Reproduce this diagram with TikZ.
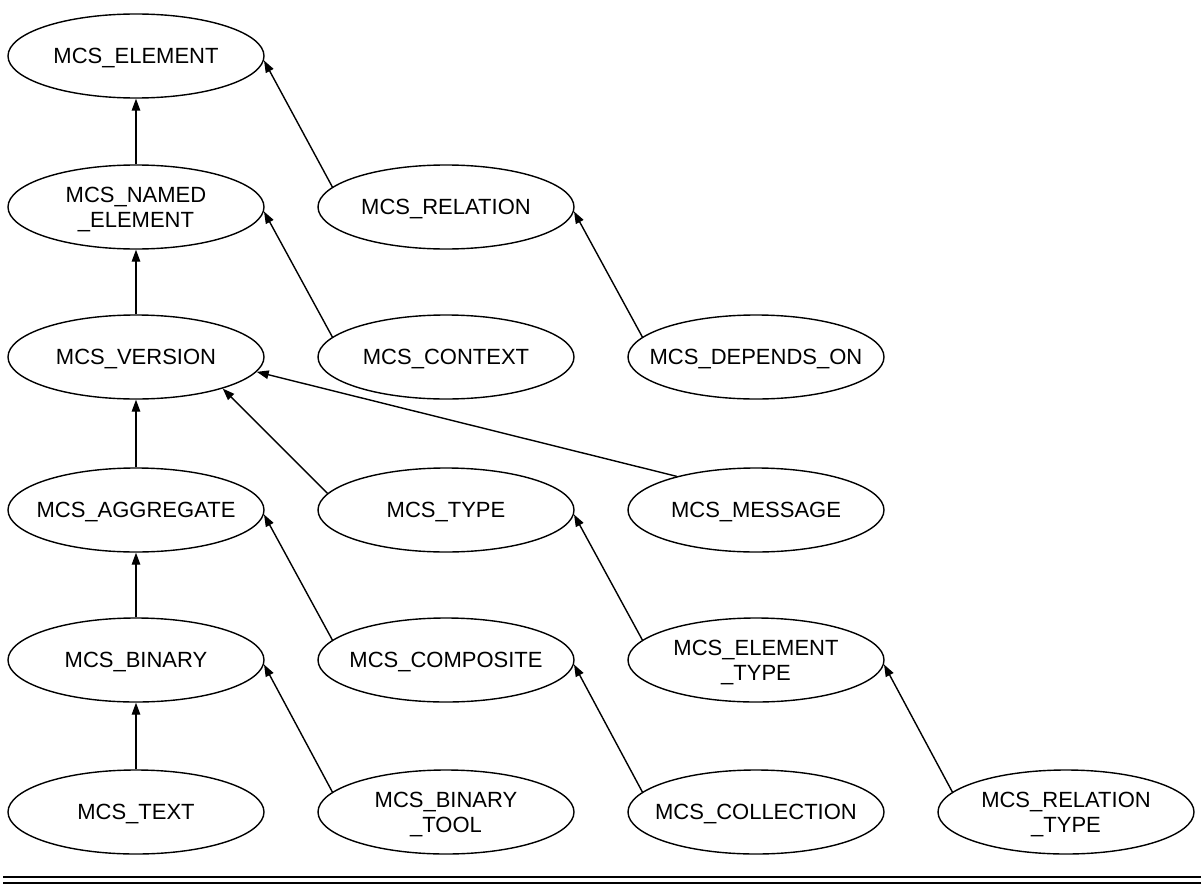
\documentclass[tikz,border=0pt]{standalone}
\usepackage{fontspec}
\setmainfont{Liberation Sans}
\usetikzlibrary{shapes.geometric,arrows.meta}

\tikzset{
  % class name, centred inside the ellipse without widening it
  lbl/.style={inner sep=0pt, align=center,
              font=\fontsize{22}{25}\selectfont, text depth=0pt},
  one/.style={text height=15.75pt},
  cls/.style={ellipse, draw=black, line width=1.4pt, minimum width=256pt,
              minimum height=84pt, inner sep=0pt,
              label={[lbl, one]center:#1}},
  cls2/.style={ellipse, draw=black, line width=1.4pt, minimum width=256pt,
              minimum height=84pt, inner sep=0pt,
              label={[lbl]center:#1}},
  isa/.style={line width=1.4pt, -{Triangle[length=12pt,width=8.5pt]}},
}

\begin{document}
\begin{tikzpicture}[x=1pt, y=-1pt]
  \useasboundingbox (0,0) rectangle (1201,888);

  % column one: the main inheritance chain
  \node[cls={MCS\_ELEMENT}]            (elem)  at (136,56)  {};
  \node[cls2={MCS\_NAMED\\\_ELEMENT}]  (named) at (136,207) {};
  \node[cls={MCS\_VERSION}]            (ver)   at (136,357) {};
  \node[cls={MCS\_AGGREGATE}]          (agg)   at (136,510) {};
  \node[cls={MCS\_BINARY}]             (bin)   at (136,660) {};
  \node[cls={MCS\_TEXT}]               (txt)   at (136,812) {};

  % column two
  \node[cls={MCS\_RELATION}]           (rel)   at (446,207) {};
  \node[cls={MCS\_CONTEXT}]            (ctx)   at (446,357) {};
  \node[cls={MCS\_TYPE}]               (typ)   at (446,510) {};
  \node[cls={MCS\_COMPOSITE}]          (comp)  at (446,660) {};
  \node[cls2={MCS\_BINARY\\\_TOOL}]    (tool)  at (446,812) {};

  % column three
  \node[cls={MCS\_DEPENDS\_ON}]        (dep)   at (756,357) {};
  \node[cls={MCS\_MESSAGE}]            (msg)   at (756,510) {};
  \node[cls2={MCS\_ELEMENT\\\_TYPE}]   (etyp)  at (756,660) {};
  \node[cls={MCS\_COLLECTION}]         (coll)  at (756,812) {};

  % column four
  \node[cls2={MCS\_RELATION\\\_TYPE}]  (rtyp)  at (1066,812) {};

  % vertical generalisations
  \draw[isa] (named.north) -- (elem.south);
  \draw[isa] (ver.north)   -- (named.south);
  \draw[isa] (agg.north)   -- (ver.south);
  \draw[isa] (bin.north)   -- (agg.south);
  \draw[isa] (txt.north)   -- (bin.south);

  % diagonal generalisations
  \draw[isa] (rel.170)  -- (elem.-2);
  \draw[isa] (ctx.170)  -- (named.-2);
  \draw[isa] (dep.170)  -- (rel.-2);
  \draw[isa] (typ.172)  -- (ver.-20);
  \draw[isa] (msg.157)  -- (ver.-7);
  \draw[isa] (comp.170) -- (agg.-2);
  \draw[isa] (etyp.170) -- (typ.-2);
  \draw[isa] (tool.170) -- (bin.-2);
  \draw[isa] (coll.170) -- (comp.-2);
  \draw[isa] (rtyp.170) -- (etyp.-2);

  % closing double rule
  \draw[line width=1.5pt] (3,877) -- (1201,877);
  \draw[line width=1.5pt] (3,883) -- (1201,883);
\end{tikzpicture}
\end{document}
